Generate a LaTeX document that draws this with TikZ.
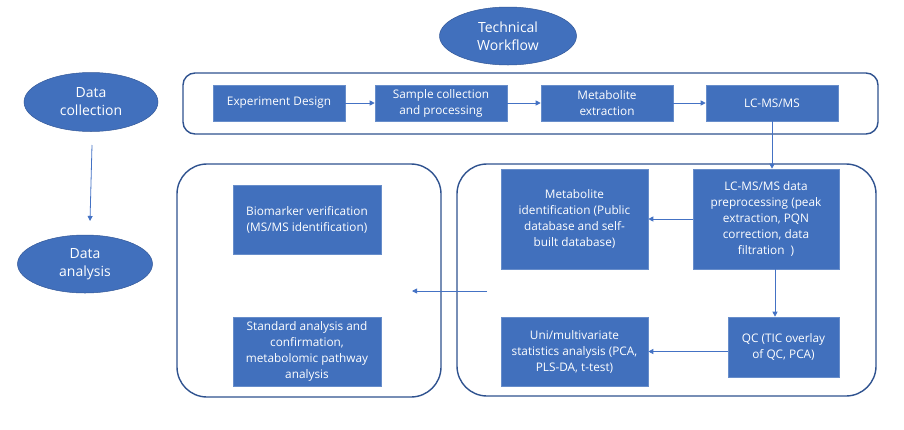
\documentclass[tikz,border=0pt]{standalone}
\usepackage{fontspec}
\setmainfont{Open Sans}
\usetikzlibrary{arrows.meta,shapes.geometric}
\definecolor{boxblue}{HTML}{4170BD}
\definecolor{edgeblue}{HTML}{2F528F}
\definecolor{arrowblue}{HTML}{4472C4}
\tikzset{
  bx/.style={rectangle, fill=boxblue, draw=boxblue!80!white, line width=0.6pt, text=white,
    align=center, inner sep=0pt, font=\fontsize{11.8}{16}\selectfont},
  ov/.style={ellipse, fill=boxblue, draw=edgeblue!80!boxblue, line width=0.5pt, text=white,
    align=center, inner sep=0pt, font=\fontsize{14}{18}\selectfont},
  frame/.style={draw=edgeblue, line width=1.4pt, fill=white},
  arr/.style={draw=arrowblue, line width=0.8pt, -{Triangle[length=5pt,width=5pt]}},
}
\begin{document}
\begin{tikzpicture}[x=1pt,y=-1pt]
\useasboundingbox (0,0) rectangle (904,429);
% containers
\draw[frame, rounded corners=12pt] (183,73) rectangle (878,134);
\draw[frame, rounded corners=30pt] (177,164) rectangle (441,397);
\draw[frame, rounded corners=30pt] (457,164) rectangle (876,396);
% ellipses
\node[ov, minimum width=137pt, minimum height=58pt] (tw) at (508,36) {Technical\\Workflow};
\node[ov, minimum width=134pt, minimum height=59pt] (dc) at (91,102) {Data\\collection};
\node[ov, minimum width=135pt, minimum height=58pt] (da) at (85,264) {Data\\analysis};
% top row
\node[bx, minimum width=132pt, minimum height=36pt] (ed) at (279,103) {Experiment Design};
\node[bx, minimum width=132pt, minimum height=36pt] (sc) at (441,103) {Sample collection\\and processing};
\node[bx, minimum width=132pt, minimum height=36pt] (me) at (607,103) {Metabolite\\extraction};
\node[bx, minimum width=132pt, minimum height=36pt] (lc) at (772,103) {LC-MS/MS};
% right container
\node[bx, minimum width=147pt, minimum height=100pt] (mi) at (574.5,219) {Metabolite\\identification (Public\\database and self-\\built database)};
\node[bx, minimum width=146pt, minimum height=100pt] (pp) at (766,219) {LC-MS/MS data\\preprocessing (peak\\extraction, PQN\\correction, data\\filtration\ \ )};
\node[bx, minimum width=111pt, minimum height=60pt] (qc) at (783.5,347) {QC (TIC overlay\\of QC, PCA)};
\node[bx, minimum width=147pt, minimum height=69pt] (uni) at (574.5,351.5) {Uni/multivariate\\statistics analysis (PCA,\\PLS-DA, t-test)};
% left container
\node[bx, minimum width=148pt, minimum height=69pt] (bv) at (307,219.5) {Biomarker verification\\(MS/MS identification)};
\node[bx, minimum width=148pt, minimum height=69pt] (sa) at (307,351.5) {Standard analysis and\\confirmation,\\metabolomic pathway\\analysis};
% connectors
\draw[arr] (ed.east) -- (sc.west);
\draw[arr] (sc.east) -- (me.west);
\draw[arr] (me.east) -- (lc.west);
\draw[arr] (lc.south) -- (lc.south |- pp.north);
\draw[arr] (pp.west) -- (mi.east);
\draw[arr] ([xshift=9pt]pp.south) -- ([xshift=-8.5pt]qc.north);
\draw[arr] ([yshift=-4.5pt]qc.west) -- (uni.east);
\coordinate (fs) at (487,291);
\coordinate (fe) at (412,291);
\draw[arr] (fs) -- (fe);
\coordinate (ds) at (92,145);
\coordinate (de) at (90,221);
\draw[arr] (ds) -- (de);
\end{tikzpicture}
\end{document}
